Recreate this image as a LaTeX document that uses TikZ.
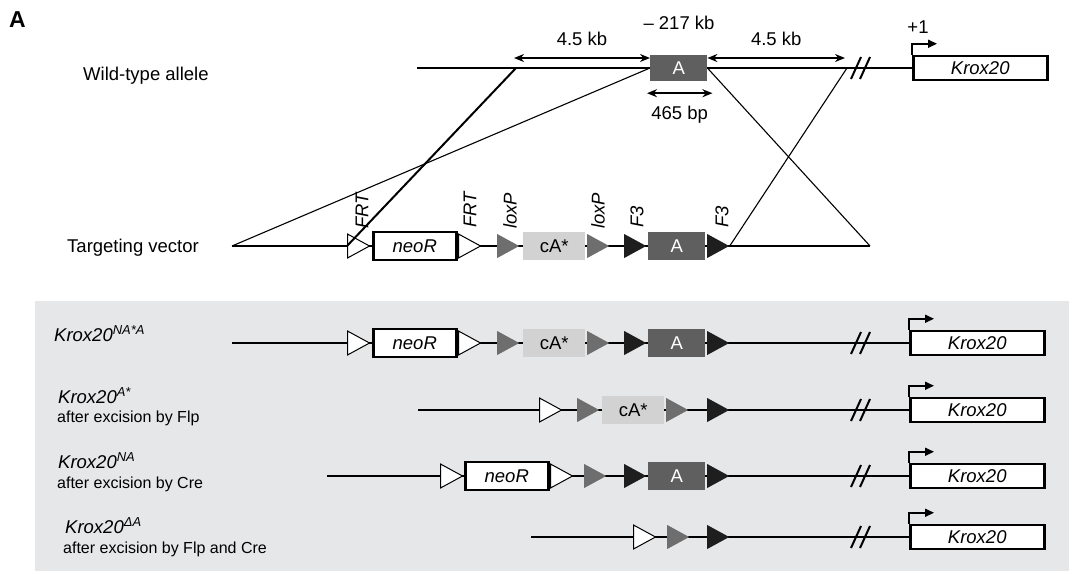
\documentclass[tikz,border=0pt]{standalone}
\usepackage{fontspec}
\setmainfont{Liberation Sans}
\usepackage{tikz}
\usetikzlibrary{shapes.geometric, arrows.meta, backgrounds}
\usepackage{xcolor}
\definecolor{panelgray}{HTML}{E6E7E9}
\definecolor{agray}{HTML}{5F5F5F}
\definecolor{cagray}{HTML}{D2D2D2}
\definecolor{loxgray}{HTML}{6E6E6E}
\definecolor{fthreeblack}{HTML}{1E1E1E}

% gene end: break, promoter and Krox20 box
\newcommand{\kroxgene}[3]{%
  \node[kroxbox] (#1) at (#2,#3) {Krox20};
  \draw[slash] (856,#3) ++(-5,11) -- ++(10,-22);
  \draw[slash] (865,#3) ++(-5,11) -- ++(10,-22);
  \draw[prom] (#1.north west) -- ++(0,-11) -- ++(25,0);
}

\begin{document}
\begin{tikzpicture}[x=1pt, y=-1pt,
    every node/.style={font=\fontsize{18.5}{22}\selectfont},
    txt/.style={anchor=base west, inner sep=0pt},
    subtxt/.style={txt, font=\fontsize{16}{19}\selectfont},
    site/.style={isosceles triangle, isosceles triangle stretches, shape border rotate=0,
        minimum width=24pt, minimum height=22pt, inner sep=0pt, anchor=lower side},
    frt/.style={site, draw, fill=white, line width=1pt},
    lox/.style={site, fill=loxgray},
    fthree/.style={site, fill=fthreeblack},
    gbox/.style={rectangle, minimum height=28pt, inner sep=0pt, anchor=west},
    neobox/.style={gbox, draw, line width=2.5pt, fill=white, minimum width=83pt,
        font=\fontsize{18.5}{22}\selectfont\itshape},
    cabox/.style={gbox, fill=cagray, minimum width=62pt},
    abox/.style={gbox, fill=agray, text=white, minimum width=57pt},
    kroxbox/.style={rectangle, draw, line width=2.5pt, fill=white, minimum width=134pt,
        minimum height=24pt, inner sep=0pt, anchor=west, font=\fontsize{18.5}{22}\selectfont\itshape},
    sitelab/.style={rotate=90, anchor=west, inner sep=0pt, font=\fontsize{18.5}{22}\selectfont\itshape},
    dna/.style={line width=2.7pt},
    homo/.style={line width=1.1pt},
    slash/.style={line width=2pt},
    prom/.style={line width=1.6pt, -{Triangle[length=9pt, width=8pt]}},
    dim/.style={line width=1.8pt, {Stealth[length=10pt, width=8pt]}-{Stealth[length=10pt, width=8pt]}}]
    \useasboundingbox (0,0) rectangle (1083,573);
    \begin{scope}[on background layer]
        \fill[panelgray] (35,301) rectangle (1069,571);
    \end{scope}
    \node[txt, font=\fontsize{23}{26}\selectfont\bfseries] (figA) at (9,27) {A};

    % wild-type allele
    \node[txt] (wtlab) at (83,80) {Wild-type allele};
    \coordinate (wtstart) at (417,68);
    \coordinate (lhom) at (516,68);
    \coordinate (rhom) at (847,68);
    \coordinate (ldim) at (514,58);
    \coordinate (rdim) at (845,58);
    \node[abox, minimum height=26pt] (wtA) at (650,68) {A};
    \kroxgene{wtkrox}{912}{68}
    \node (plusone) at (918,27) {+1};
    \node (dist) at (679,23) {– 217 kb};
    \draw[dim] (ldim) -- (ldim -| wtA.west) node[midway, above=8pt] (lkb) {4.5 kb};
    \draw[dim] (rdim -| wtA.east) -- (rdim) node[midway, above=8pt] (rkb) {4.5 kb};
    \draw[dim] ([xshift=-3pt, yshift=-12pt]wtA.south west) -- ([xshift=5pt, yshift=-12pt]wtA.south east)
        node[midway, below=9pt] (bp) {465 bp};

    % targeting vector
    \node[txt] (tvlab) at (67,252) {Targeting vector};
    \coordinate (tvstart) at (232,246);
    \coordinate (tvend) at (870,246);
    \node[frt] (tvfrt1) at (347,246) {};
    \node[neobox] (tvneo) at (372,246) {neoR};
    \node[frt] (tvfrt2) at (458,246) {};
    \node[lox] (tvlox1) at (497,246) {};
    \node[cabox] (tvca) at (523,246) {cA*};
    \node[lox] (tvlox2) at (587,246) {};
    \node[fthree] (tvf1) at (624,246) {};
    \node[abox] (tvA) at (648,246) {A};
    \node[fthree] (tvf2) at (707,246) {};
    \node[sitelab] (lbfrt1) at (362,229) {FRT};
    \node[sitelab] (lbfrt2) at (470,228) {FRT};
    \node[sitelab] (lblox1) at (510,229) {loxP};
    \node[sitelab] (lblox2) at (598,229) {loxP};
    \node[sitelab] (lbf1) at (637,228) {F3};
    \node[sitelab] (lbf2) at (722,228) {F3};

    % homology arms
    \draw[homo, line width=2pt] (lhom) -- (tvfrt1.lower side);
    \draw[homo] (wtA.west) -- (tvstart);
    \draw[homo] (wtA.east) -- (tvend);
    \draw[homo] (rhom) -- (tvf2.apex);

    % Krox20 NA*A
    \node[txt] (r1lab) at (54,341) {\itshape Krox20\textsuperscript{NA*A}};
    \coordinate (r1start) at (232,343);
    \node[frt] (r1frt1) at (347,343) {};
    \node[neobox] (r1neo) at (372,343) {neoR};
    \node[frt] (r1frt2) at (458,343) {};
    \node[lox] (r1lox1) at (497,343) {};
    \node[cabox] (r1ca) at (523,343) {cA*};
    \node[lox] (r1lox2) at (587,343) {};
    \node[fthree] (r1f1) at (624,343) {};
    \node[abox] (r1A) at (648,343) {A};
    \node[fthree] (r1f2) at (707,343) {};
    \kroxgene{r1krox}{909}{343}

    % Krox20 A*
    \node[txt] (r2lab) at (58,403) {\itshape Krox20\textsuperscript{A*}};
    \node[subtxt] (r2sub) at (57,422) {after excision by Flp};
    \coordinate (r2start) at (418,410);
    \node[frt] (r2frt) at (539,410) {};
    \node[lox] (r2lox1) at (577,410) {};
    \node[cabox] (r2ca) at (602,410) {cA*};
    \node[lox] (r2lox2) at (666,410) {};
    \node[fthree] (r2f) at (707,410) {};
    \kroxgene{r2krox}{909}{410}

    % Krox20 NA
    \node[txt] (r3lab) at (58,468) {\itshape Krox20\textsuperscript{NA}};
    \node[subtxt] (r3sub) at (57,488) {after excision by Cre};
    \coordinate (r3start) at (327,476);
    \node[frt] (r3frt1) at (440,476) {};
    \node[neobox] (r3neo) at (464,476) {neoR};
    \node[frt] (r3frt2) at (550,476) {};
    \node[lox] (r3lox) at (584,476) {};
    \node[fthree] (r3f1) at (624,476) {};
    \node[abox] (r3A) at (648,476) {A};
    \node[fthree] (r3f2) at (707,476) {};
    \kroxgene{r3krox}{909}{476}

    % Krox20 delta A
    \node[txt] (r4lab) at (65,533) {\itshape Krox20\textsuperscript{ΔA}};
    \node[subtxt] (r4sub) at (63,553) {after excision by Flp and Cre};
    \coordinate (r4start) at (531,537);
    \node[frt] (r4frt) at (633,537) {};
    \node[lox] (r4lox) at (667,537) {};
    \node[fthree] (r4f) at (707,537) {};
    \kroxgene{r4krox}{909}{537}

    % backbones
    \begin{scope}[on background layer]
        \draw[dna] (wtstart) -- (wtkrox.west);
        \draw[dna] (tvstart) -- (tvend);
        \draw[dna] (r1start) -- (r1krox.west);
        \draw[dna] (r2start) -- (r2krox.west);
        \draw[dna] (r3start) -- (r3krox.west);
        \draw[dna] (r4start) -- (r4krox.west);
    \end{scope}
\end{tikzpicture}
\end{document}
